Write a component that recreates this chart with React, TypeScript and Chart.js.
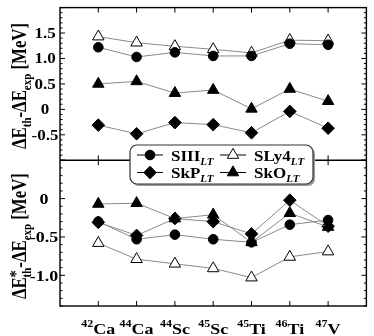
import React, { useEffect, useRef } from 'react';
import { Chart, registerables } from 'chart.js';

Chart.register(...registerables);

// ---------- data ----------
const categories = ['42Ca', '44Ca', '44Sc', '45Sc', '45Ti', '46Ti', '47V'];
const massNumbers = ['42', '44', '44', '45', '45', '46', '47'];
const elements = ['Ca', 'Ca', 'Sc', 'Sc', 'Ti', 'Ti', 'V'];

const topSIII = [1.22, 1.03, 1.12, 1.05, 1.05, 1.29, 1.27];
const topSLy4 = [1.43, 1.31, 1.24, 1.18, 1.11, 1.36, 1.35];
const topSkO = [0.5, 0.55, 0.32, 0.38, 0.01, 0.4, 0.16];
const topSkP = [-0.31, -0.48, -0.26, -0.3, -0.46, -0.04, -0.37];

const botSIII = [-0.3, -0.53, -0.47, -0.53, -0.57, -0.34, -0.28];
const botSkP = [-0.31, -0.48, -0.26, -0.3, -0.46, -0.02, -0.36];
const botSkO = [-0.07, -0.06, -0.26, -0.21, -0.57, -0.19, -0.37];
const botSLy4 = [-0.58, -0.79, -0.85, -0.91, -1.03, -0.76, -0.69];

const topTicks = [-0.5, 0, 0.5, 1.0, 1.5];
const topTickLabels = ['-0.5', '0', '0.5', '1.0', '1.5'];
const botTicks = [-1.0, -0.5, 0];
const botTickLabels = ['-1.0', '-0.5', '0'];

const seriesNames = ['SIII', 'SLy4', 'SkP', 'SkO'];

// ---------- styles ----------
const LINE = '#8a8a8a';
const SERIF = '"Liberation Serif", "Times New Roman", serif';

type Style = { pointStyle: string; radius: number; fill: string };
const styles: Record<string, Style> = {
  SIII: { pointStyle: 'circle', radius: 4.8, fill: '#000' },
  SLy4: { pointStyle: 'triangle', radius: 6.6, fill: '#fff' },
  SkP: { pointStyle: 'rectRot', radius: 6.3, fill: '#000' },
  SkO: { pointStyle: 'triangle', radius: 6.6, fill: '#000' },
};

function makeDataset(name: string, values: number[], axis: string) {
  const st = styles[name];
  return {
    label: name + ' ' + axis,
    data: values.map((v, i) => ({ x: i + 1, y: v })),
    yAxisID: axis,
    xAxisID: 'x',
    borderColor: LINE,
    borderWidth: 1,
    pointStyle: st.pointStyle,
    pointRadius: st.radius,
    pointBackgroundColor: st.fill,
    pointBorderColor: '#000',
    pointBorderWidth: 1,
    tension: 0,
    fill: false,
  };
}

function squishText(
  ctx: CanvasRenderingContext2D,
  text: string,
  x: number,
  y: number,
  font: string,
  align: CanvasTextAlign,
  sy: number
) {
  ctx.save();
  ctx.translate(x, y);
  ctx.scale(1, sy);
  ctx.font = font;
  ctx.textAlign = align;
  ctx.textBaseline = 'alphabetic';
  ctx.fillText(text, 0, 0);
  ctx.restore();
}

type Seg = { t: string; font: string; dy: number; stackWith?: Seg };

function segWidth(ctx: CanvasRenderingContext2D, segs: Seg[]) {
  let w = 0;
  for (const s of segs) {
    ctx.font = s.font;
    let sw = ctx.measureText(s.t).width;
    if (s.stackWith) {
      ctx.font = s.stackWith.font;
      sw = Math.max(sw, ctx.measureText(s.stackWith.t).width);
    }
    w += sw;
  }
  return w;
}

function drawSegs(ctx: CanvasRenderingContext2D, segs: Seg[], x0: number, y0: number) {
  let x = x0;
  ctx.textAlign = 'left';
  ctx.textBaseline = 'alphabetic';
  for (const s of segs) {
    ctx.font = s.font;
    let sw = ctx.measureText(s.t).width;
    ctx.fillText(s.t, x, y0 + s.dy);
    if (s.stackWith) {
      ctx.font = s.stackWith.font;
      const w2 = ctx.measureText(s.stackWith.t).width;
      ctx.fillText(s.stackWith.t, x, y0 + s.stackWith.dy);
      sw = Math.max(sw, w2);
    }
    x += sw;
  }
}

function drawMarker(ctx: CanvasRenderingContext2D, name: string, x: number, y: number) {
  const st = styles[name];
  const r = st.radius;
  ctx.save();
  ctx.fillStyle = st.fill;
  ctx.strokeStyle = '#000';
  ctx.lineWidth = 1;
  ctx.beginPath();
  if (st.pointStyle === 'circle') {
    ctx.arc(x, y, r, 0, Math.PI * 2);
  } else if (st.pointStyle === 'triangle') {
    for (let k = 0; k < 3; k++) {
      const a = (k * 2 * Math.PI) / 3;
      const px = x + Math.sin(a) * r;
      const py = y - Math.cos(a) * r;
      if (k === 0) ctx.moveTo(px, py);
      else ctx.lineTo(px, py);
    }
    ctx.closePath();
  } else {
    ctx.moveTo(x, y - r);
    ctx.lineTo(x + r, y);
    ctx.lineTo(x, y + r);
    ctx.lineTo(x - r, y);
    ctx.closePath();
  }
  ctx.fill();
  ctx.stroke();
  ctx.restore();
}

const decorPlugin = {
  id: 'decor',
  afterDraw(chart: any) {
    const ctx: CanvasRenderingContext2D = chart.ctx;
    const area = chart.chartArea;
    const xs = chart.scales.x;
    const yT = chart.scales.yTop;
    const yB = chart.scales.yBot;
    const L = area.left;
    const R = area.right;
    ctx.save();
    ctx.strokeStyle = '#000';
    ctx.fillStyle = '#000';

    const seg = (x1: number, y1: number, x2: number, y2: number) => {
      ctx.beginPath();
      ctx.moveTo(x1, y1);
      ctx.lineTo(x2, y2);
      ctx.stroke();
    };

    // ticks
    ctx.lineWidth = 1;
    const panels: [any, number, number][] = [
      [yT, yT.min, yT.max],
      [yB, yB.min, yB.max],
    ];
    for (const [s, lo, hi] of panels) {
      for (let k = Math.ceil(lo * 10 - 1e-6); k <= Math.floor(hi * 10 + 1e-6); k++) {
        const py = s.getPixelForValue(k / 10);
        const len = k % 5 === 0 ? 5 : 2.5;
        seg(L, py, L + len, py);
        seg(R, py, R - len, py);
      }
      for (let i = 0; i < categories.length; i++) {
        const px = xs.getPixelForValue(i + 1);
        seg(px, s.top, px, s.top + 5);
        seg(px, s.bottom, px, s.bottom - 5);
      }
    }

    // frame
    ctx.lineWidth = 1.4;
    ctx.strokeRect(L, yT.top, R - L, yB.bottom - yT.top);
    seg(L, yT.bottom, R, yT.bottom);

    // y tick labels
    topTicks.forEach((v, i) => {
      squishText(ctx, topTickLabels[i], 45, yT.getPixelForValue(v) + 5, 'bold 17px ' + SERIF, 'center', 0.85);
    });
    botTicks.forEach((v, i) => {
      squishText(ctx, botTickLabels[i], 44, yB.getPixelForValue(v) + 5.2, 'bold 18px ' + SERIF, 'center', 0.85);
    });

    // x labels
    for (let i = 0; i < categories.length; i++) {
      const px = xs.getPixelForValue(i + 1);
      const supFont = 'bold 12px ' + SERIF;
      const elFont = 'bold 18px ' + SERIF;
      ctx.font = supFont;
      const w1 = ctx.measureText(massNumbers[i]).width;
      ctx.font = elFont;
      const w2 = ctx.measureText(elements[i]).width;
      const x0 = px - (w1 + w2) / 2;
      squishText(ctx, massNumbers[i], x0, 327, supFont, 'left', 0.85);
      squishText(ctx, elements[i], x0 + w1, 333.5, elFont, 'left', 0.82);
    }

    // y titles
    const big = 'bold 20px ' + SERIF;
    const sub = 'bold 13px ' + SERIF;
    const topTitle: Seg[] = [
      { t: 'ΔE', font: big, dy: 0 },
      { t: 'th', font: sub, dy: 5 },
      { t: '-ΔE', font: big, dy: 0 },
      { t: 'exp', font: sub, dy: 5 },
      { t: ' [MeV]', font: big, dy: 0 },
    ];
    const botTitle: Seg[] = [
      { t: 'ΔE', font: big, dy: 0 },
      { t: 'th', font: sub, dy: 5, stackWith: { t: '*', font: 'bold 17px ' + SERIF, dy: -5 } },
      { t: '-ΔE', font: big, dy: 0 },
      { t: 'exp', font: sub, dy: 5 },
      { t: ' [MeV]', font: big, dy: 0 },
    ];
    const drawTitle = (segs: Seg[], cy: number) => {
      ctx.save();
      ctx.translate(26, cy);
      ctx.scale(1, 0.84);
      ctx.rotate(-Math.PI / 2);
      const w = segWidth(ctx, segs);
      drawSegs(ctx, segs, -w / 2, 0);
      ctx.restore();
    };
    drawTitle(topTitle, (yT.top + yT.bottom) / 2 + 2);
    drawTitle(botTitle, (yB.top + yB.bottom) / 2 + 3);

    // legend
    const bx = 130, by = 145, bw = 183, bh = 39, rr = 7;
    const rrect = (x: number, y: number, w: number, h: number, r: number) => {
      ctx.beginPath();
      ctx.moveTo(x + r, y);
      ctx.lineTo(x + w - r, y);
      ctx.arcTo(x + w, y, x + w, y + r, r);
      ctx.lineTo(x + w, y + h - r);
      ctx.arcTo(x + w, y + h, x + w - r, y + h, r);
      ctx.lineTo(x + r, y + h);
      ctx.arcTo(x, y + h, x, y + h - r, r);
      ctx.lineTo(x, y + r);
      ctx.arcTo(x, y, x + r, y, r);
      ctx.closePath();
    };
    ctx.fillStyle = '#999';
    rrect(bx + 2, by + 2, bw, bh, rr);
    ctx.fill();
    ctx.fillStyle = '#fff';
    rrect(bx, by, bw, bh, rr);
    ctx.fill();
    ctx.strokeStyle = '#333';
    ctx.lineWidth = 1.2;
    ctx.stroke();

    const cols = [150, 233];
    const rows = [155, 172.5];
    const order = [
      [0, 0],
      [1, 0],
      [0, 1],
      [1, 1],
    ];
    seriesNames.forEach((name, i) => {
      const [c, r] = order[i];
      const mx = cols[c];
      const my = rows[r];
      ctx.strokeStyle = '#000';
      ctx.lineWidth = 1;
      seg(mx - 13, my, mx + 13, my);
      drawMarker(ctx, name, mx, my);
      ctx.fillStyle = '#000';
      const tx = mx + 21;
      const nFont = 'bold 17px ' + SERIF;
      ctx.font = nFont;
      const w = ctx.measureText(name).width;
      squishText(ctx, name, tx, my + 5.5, nFont, 'left', 0.85);
      squishText(ctx, 'LT', tx + w, my + 9.5, 'bold italic 11px ' + SERIF, 'left', 0.85);
    });

    ctx.restore();
  },
};

export default function App() {
  const ref = useRef<HTMLCanvasElement | null>(null);
  useEffect(() => {
    if (!ref.current) return;
    const datasets = [
      makeDataset('SIII', topSIII, 'yTop'),
      makeDataset('SLy4', topSLy4, 'yTop'),
      makeDataset('SkP', topSkP, 'yTop'),
      makeDataset('SkO', topSkO, 'yTop'),
      makeDataset('SkO', botSkO, 'yBot'),
      makeDataset('SkP', botSkP, 'yBot'),
      makeDataset('SIII', botSIII, 'yBot'),
      makeDataset('SLy4', botSLy4, 'yBot'),
    ];
    const chart = new Chart(ref.current, {
      type: 'line',
      data: { datasets: datasets as any },
      options: {
        animation: false,
        responsive: false,
        maintainAspectRatio: false,
        layout: { padding: { left: 60, right: 3, top: 3, bottom: 30 } },
        plugins: { legend: { display: false }, tooltip: { enabled: false } },
        scales: {
          x: { type: 'linear', min: 0, max: 8, display: false },
          yBot: {
            type: 'linear',
            position: 'left',
            stack: 'panels',
            stackWeight: 148,
            min: -1.4,
            max: 0.5,
            display: false,
          },
          yTop: {
            type: 'linear',
            position: 'left',
            stack: 'panels',
            stackWeight: 155,
            min: -1,
            max: 2,
            display: false,
          },
        } as any,
      },
      plugins: [decorPlugin],
    });
    return () => chart.destroy();
  }, []);
  return (
    <div style={{ position: 'absolute', left: 0, top: 0, width: 374, height: 336, background: '#fff' }}>
      <canvas ref={ref} width={374} height={336} style={{ width: 374, height: 336, display: 'block' }} />
    </div>
  );
}
